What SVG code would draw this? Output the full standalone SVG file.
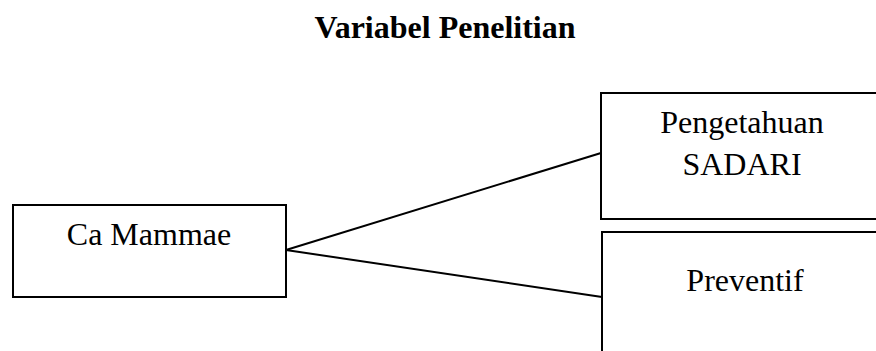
<svg xmlns="http://www.w3.org/2000/svg" width="876" height="351" viewBox="0 0 876 351">
<style>
.box{fill:#fff;stroke:#000;stroke-width:2}
.t{font-family:"Liberation Serif","Times New Roman",serif;font-size:32px;fill:#000;text-anchor:middle}
.title{font-weight:bold}
.conn{stroke:#000;stroke-width:2;fill:none}
</style>
<rect width="876" height="351" fill="#fff"/>
<text class="t title" x="445" y="38">Variabel Penelitian</text>
<g id="connectors">
<line class="conn" x1="286" y1="250" x2="601" y2="153"/>
<line class="conn" x1="286" y1="250" x2="602" y2="297"/>
</g>
<g id="ca-mammae">
<rect class="box" x="13" y="205" width="273" height="92"/>
<text class="t" x="149" y="245">Ca Mammae</text>
</g>
<g id="pengetahuan">
<rect class="box" x="601" y="93" width="290" height="126"/>
<text class="t" x="742" y="133">Pengetahuan</text>
<text class="t" x="742" y="175">SADARI</text>
</g>
<g id="preventif">
<rect class="box" x="602" y="232" width="290" height="140"/>
<text class="t" x="745" y="291">Preventif</text>
</g>
</svg>
